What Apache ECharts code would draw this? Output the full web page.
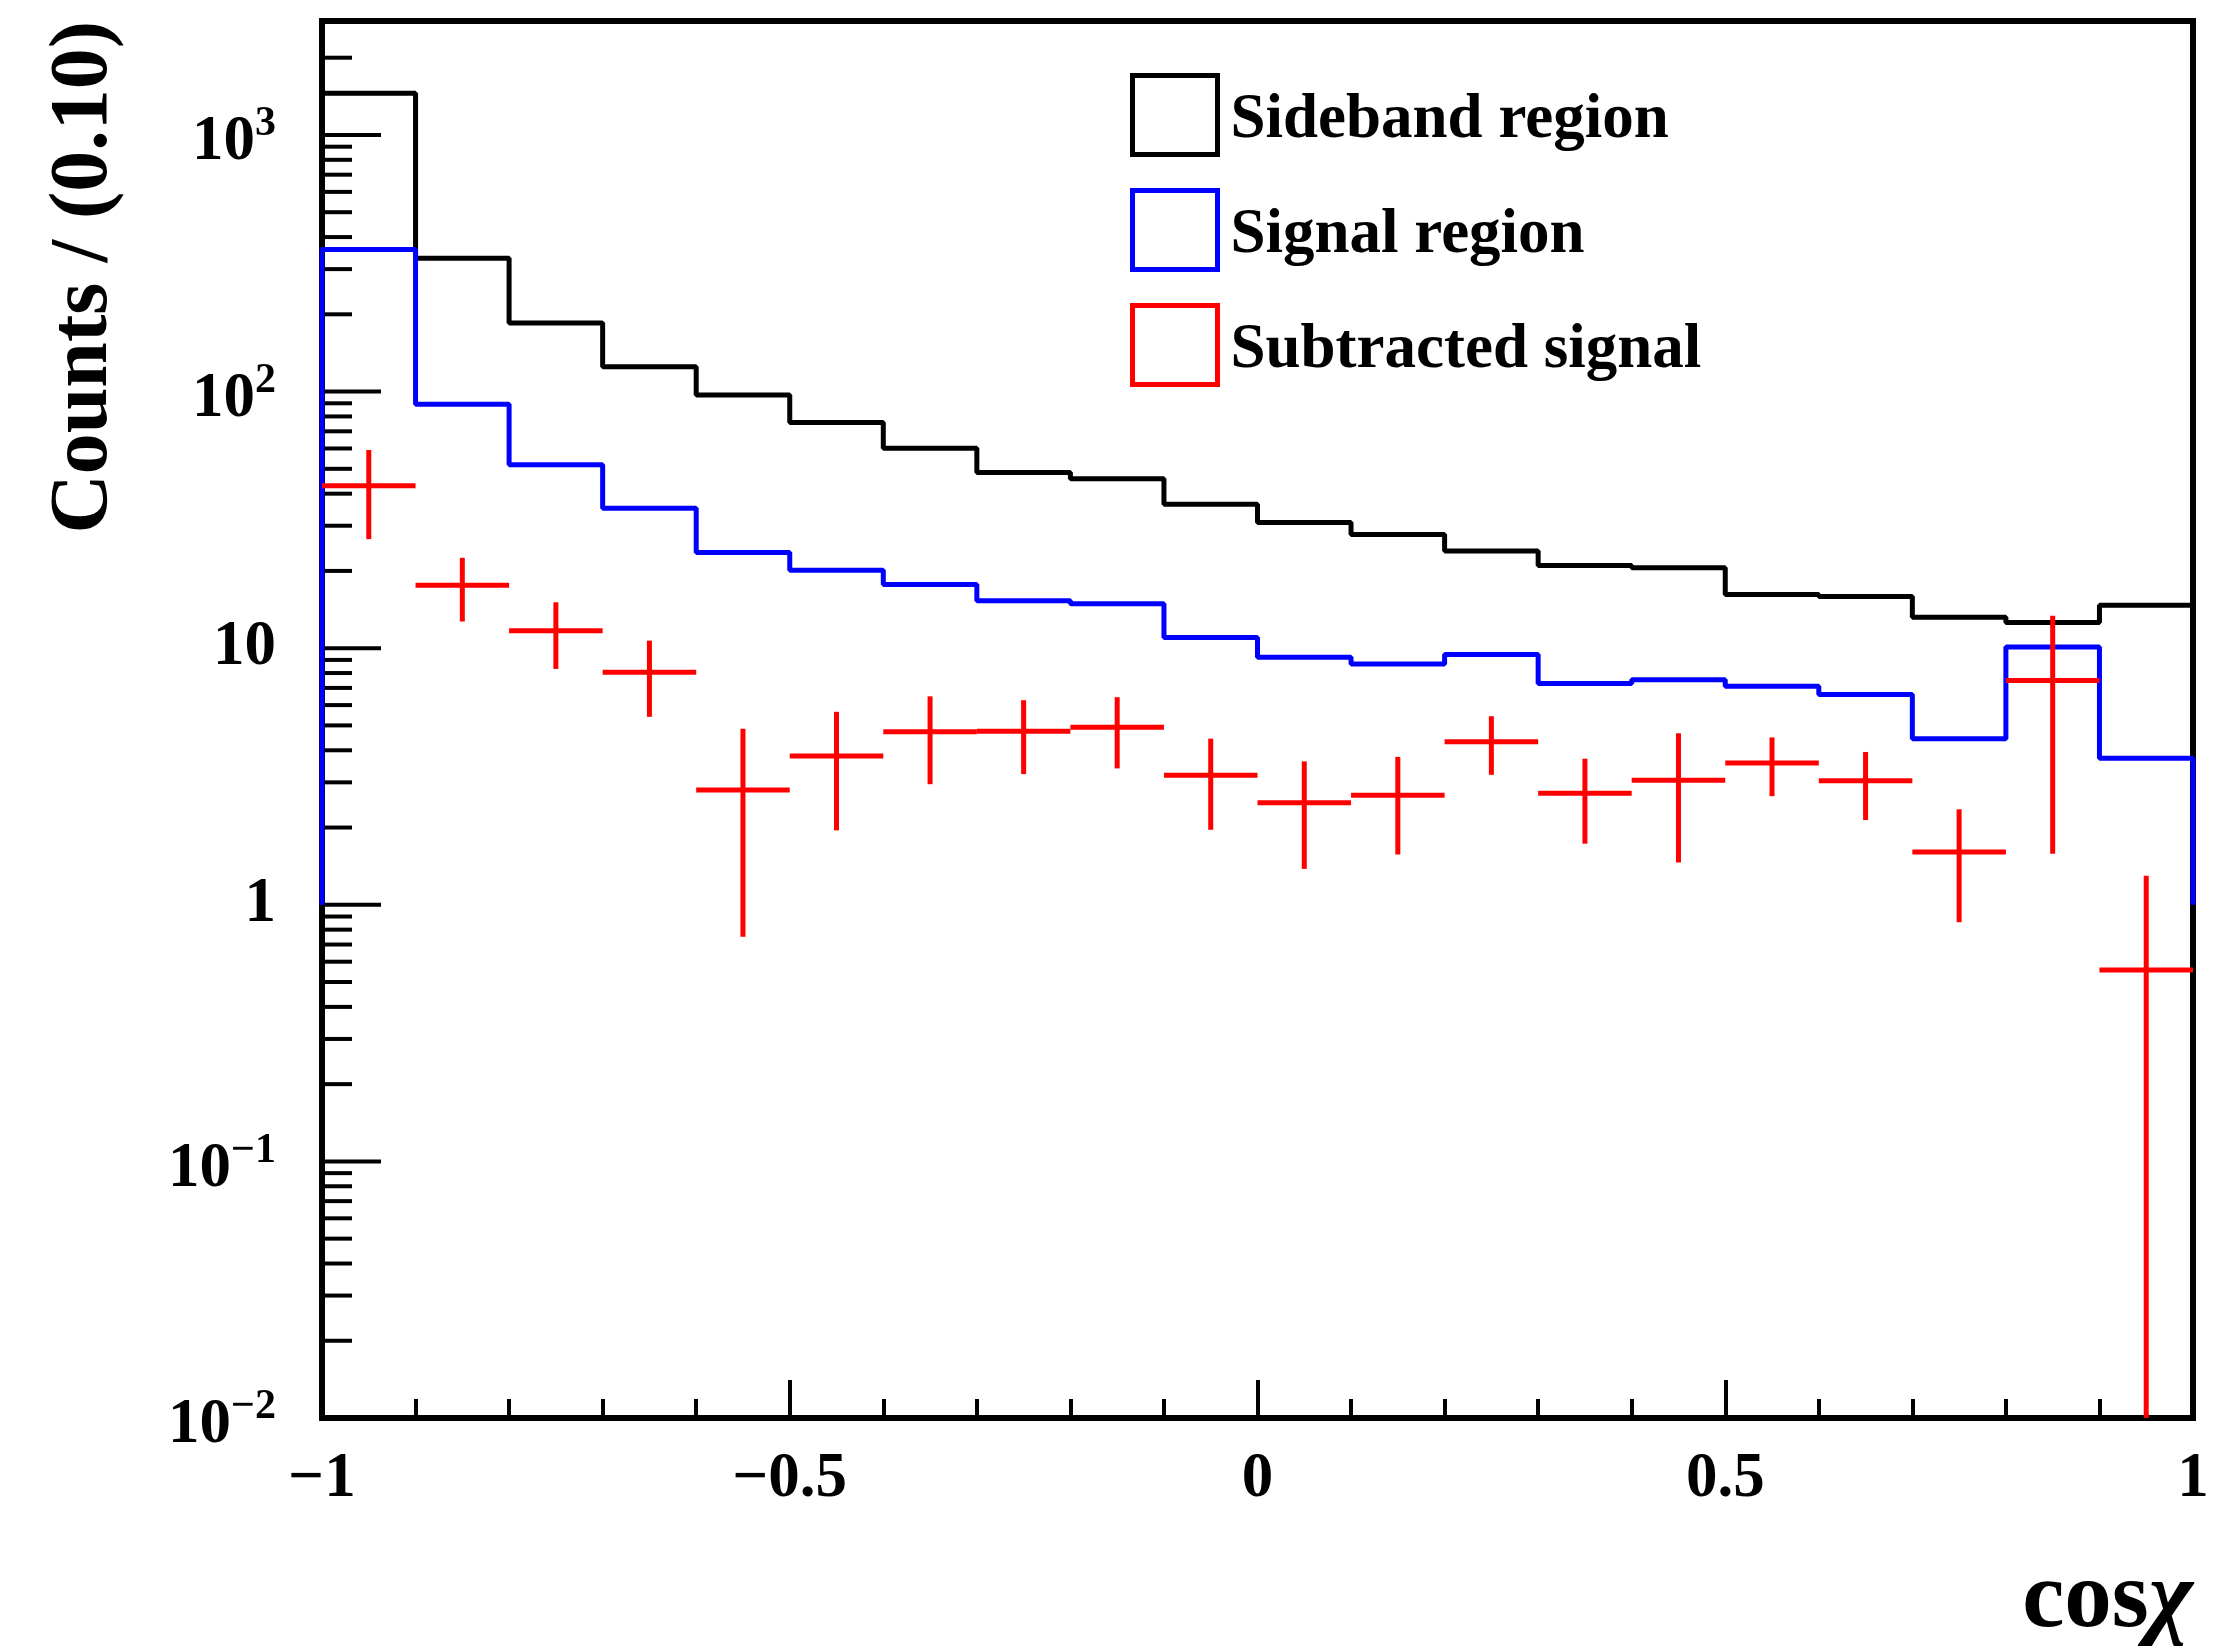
<!DOCTYPE html>
<html><head><meta charset="utf-8">
<script src="https://cdn.jsdelivr.net/npm/echarts@6.0.0/dist/echarts.min.js"></script>
<style>html,body{margin:0;padding:0;background:#fff}#c{width:2223px;height:1651px}</style>
</head><body><div id="c"></div>
<script>
// ---- data ----
const binEdges = [-1.0,-0.9,-0.8,-0.7,-0.6,-0.5,-0.4,-0.3,-0.2,-0.1,0.0,0.1,0.2,0.3,0.4,0.5,0.6,0.7,0.8,0.9,1.0];
const sideband = [1455,331,185,125,96.9,75.8,60.1,48.4,45.7,36.4,30.9,27.7,23.9,21.0,20.6,16.2,15.9,13.2,12.6,14.7];
const signal = [358,89.2,51.9,35.1,23.6,20.1,17.7,15.3,14.9,11.0,9.22,8.67,9.44,7.29,7.54,7.10,6.60,4.44,10.1,3.72];
const subtracted = [42.9,17.6,11.7,8.05,2.80,3.80,4.72,4.75,4.92,3.20,2.50,2.67,4.32,2.72,3.06,3.57,3.04,1.605,7.48,0.557];
const subtractedErr = [16.3,4.9,3.4,2.65,2.05,1.85,1.77,1.52,1.52,1.24,1.12,1.10,1.11,0.99,1.6,0.92,0.90,0.75,5.9,0.74];
const histBaseline = 1;
const xTickValues = [-1,-0.5,0,0.5,1];
const xTickLabels = ['\u22121','\u22120.5','0','0.5','1'];
const yMajorTicks = [0.01,0.1,1,10,100,1000];
const yTickBase = ['10','10','1','10','10','10'];
const yTickExp = ['\u22122','\u22121','','','2','3'];
const yMinorTicks = [0.02,0.03,0.04,0.05,0.06,0.07,0.08,0.09,
  0.2,0.3,0.4,0.5,0.6,0.7,0.8,0.9, 2,3,4,5,6,7,8,9,
  20,30,40,50,60,70,80,90, 200,300,400,500,600,700,800,900, 2000];
const yMin = 0.01, yMax = 2780;
const seriesNames = ['Sideband region','Signal region','Subtracted signal'];
const xTitleMain = 'cos', xTitleGreek = '\u03c7';
const yTitle = 'Counts / (0.10)';

// ---- helpers ----
const FONT = '"Liberation Serif","Times New Roman",serif';
function stepData(vals){
  const n = binEdges.length - 1;
  const d = [[binEdges[0], histBaseline]];
  vals.forEach((v,i)=>d.push([binEdges[i], v]));
  d.push([binEdges[n], vals[vals.length-1]]);
  d.push([binEdges[n], histBaseline]);
  return d;
}
const tickData = yMajorTicks.map(v=>[-1, v, 1]).concat(yMinorTicks.map(v=>[-1, v, 0]));
const errData = subtracted.map((v,i)=>[binEdges[i], binEdges[i+1], v, subtractedErr[i]]);

const chart = echarts.init(document.getElementById('c'));
chart.setOption({
  animation: false,
  backgroundColor: '#ffffff',
  grid: {left: 322, right: 30, top: 21, bottom: 233, show: true, borderColor: '#000', borderWidth: 6,
         backgroundColor: 'transparent', containLabel: false, outerBoundsMode: 'none'},
  xAxis: {
    type: 'value', min: -1, max: 1, interval: 0.5,
    axisLine: {show: false},
    splitLine: {show: false},
    axisTick: {show: true, inside: true, length: 38, lineStyle: {color: '#000', width: 4}},
    minorTick: {show: true, splitNumber: 5, length: 19, lineStyle: {color: '#000', width: 4}},
    axisLabel: {
      margin: 30, color: '#000', fontFamily: FONT, fontWeight: 'bold', fontSize: 63,
      formatter: function(v){
        for (let i=0;i<xTickValues.length;i++) if (Math.abs(v-xTickValues[i])<1e-9) return xTickLabels[i];
        return '';
      }
    }
  },
  yAxis: {
    type: 'log', logBase: 10, min: yMin, max: yMax,
    axisLine: {show: false},
    splitLine: {show: false},
    axisTick: {show: false},
    minorTick: {show: false},
    axisLabel: {
      margin: 46, color: '#000', fontFamily: FONT, fontWeight: 'bold', fontSize: 63,
      formatter: function(v){
        const lv = Math.log10(v);
        for (let i=0;i<yMajorTicks.length;i++){
          if (Math.abs(lv - Math.log10(yMajorTicks[i])) < 1e-6){
            return yTickExp[i] ? '{b|' + yTickBase[i] + '}{s|' + yTickExp[i] + '}' : '{p|' + yTickBase[i] + '}';
          }
        }
        return '';
      },
      rich: {
        p: {fontFamily: FONT, fontWeight: 'bold', fontSize: 63, lineHeight: 63, color: '#000'},
        b: {fontFamily: FONT, fontWeight: 'bold', fontSize: 63, lineHeight: 63, color: '#000', padding: [16,0,0,0]},
        s: {fontFamily: FONT, fontWeight: 'bold', fontSize: 42, lineHeight: 42, color: '#000', verticalAlign: 'top'}
      }
    }
  },
  legend: {
    orient: 'vertical', left: 1130, top: 73, padding: 0,
    itemWidth: 85, itemHeight: 79, itemGap: 31, selectedMode: false,
    textStyle: {fontFamily: FONT, fontWeight: 'bold', fontSize: 63, color: '#000',
      rich: {t: {fontFamily: FONT, fontWeight: 'bold', fontSize: 63, lineHeight: 63, color: '#000', padding: [12,0,0,8]}}},
    formatter: function(name){ return '{t|' + name + '}'; },
    data: [
      {name: seriesNames[0], icon: 'rect', itemStyle: {color: '#ffffff', borderColor: '#000000', borderWidth: 5}},
      {name: seriesNames[1], icon: 'rect', itemStyle: {color: '#ffffff', borderColor: '#0000ff', borderWidth: 5}},
      {name: seriesNames[2], icon: 'rect', itemStyle: {color: '#ffffff', borderColor: '#ff0000', borderWidth: 5}}
    ]
  },
  graphic: [
    {type: 'text', x: 85, y: 21, rotation: Math.PI/2, z: 10,
     style: {text: yTitle, font: 'bold 82px ' + FONT, fill: '#000', align: 'right', verticalAlign: 'middle', textAlign: 'right', textVerticalAlign: 'middle'}},
    {type: 'text', x: 2193, y: 1601, z: 10,
     style: {text: '{a|' + xTitleMain + '}{g|' + xTitleGreek + '}', fill: '#000', align: 'right', verticalAlign: 'middle', textAlign: 'right', textVerticalAlign: 'middle',
             rich: {
               a: {fontFamily: FONT, fontWeight: 'bold', fontSize: 95, fill: '#000', color: '#000'},
               g: {fontFamily: FONT, fontWeight: 'bold', fontStyle: 'italic', fontSize: 95, fill: '#000', color: '#000'}
             }}}
  ],
  series: [
    {type: 'custom', silent: true, z: 3, clip: false,
     renderItem: function(params, api){
       const p = api.coord([api.value(0), api.value(1)]);
       const len = api.value(2) ? 59 : 30;
       return {type: 'line', shape: {x1: p[0], y1: p[1], x2: p[0] + len, y2: p[1]}, style: {stroke: '#000', lineWidth: 4}};
     },
     encode: {x: 0, y: 1}, data: tickData},
    {name: seriesNames[0], type: 'line', step: 'end', symbol: 'none', z: 4,
     lineStyle: {color: '#000000', width: 5}, itemStyle: {color: '#000000'}, data: stepData(sideband)},
    {name: seriesNames[1], type: 'line', step: 'end', symbol: 'none', z: 5,
     lineStyle: {color: '#0000ff', width: 5}, itemStyle: {color: '#0000ff'}, data: stepData(signal)},
    {name: seriesNames[2], type: 'custom', z: 6, clip: false, itemStyle: {color: '#ff0000'},
     renderItem: function(params, api){
       const lo = api.value(0), hi = api.value(1), v = api.value(2), e = api.value(3);
       const xc = (lo + hi) / 2;
       const pL = api.coord([lo, v]), pR = api.coord([hi, v]);
       const top = api.coord([xc, v + e]);
       const bot = api.coord([xc, Math.max(v - e, yMin)]);
       return {type: 'group', children: [
         {type: 'line', shape: {x1: pL[0], y1: pL[1], x2: pR[0], y2: pR[1]}, style: {stroke: '#ff0000', lineWidth: 5}},
         {type: 'line', shape: {x1: top[0], y1: top[1], x2: bot[0], y2: bot[1]}, style: {stroke: '#ff0000', lineWidth: 5}}
       ]};
     },
     encode: {x: [0, 1], y: 2}, data: errData}
  ]
});
</script></body></html>
